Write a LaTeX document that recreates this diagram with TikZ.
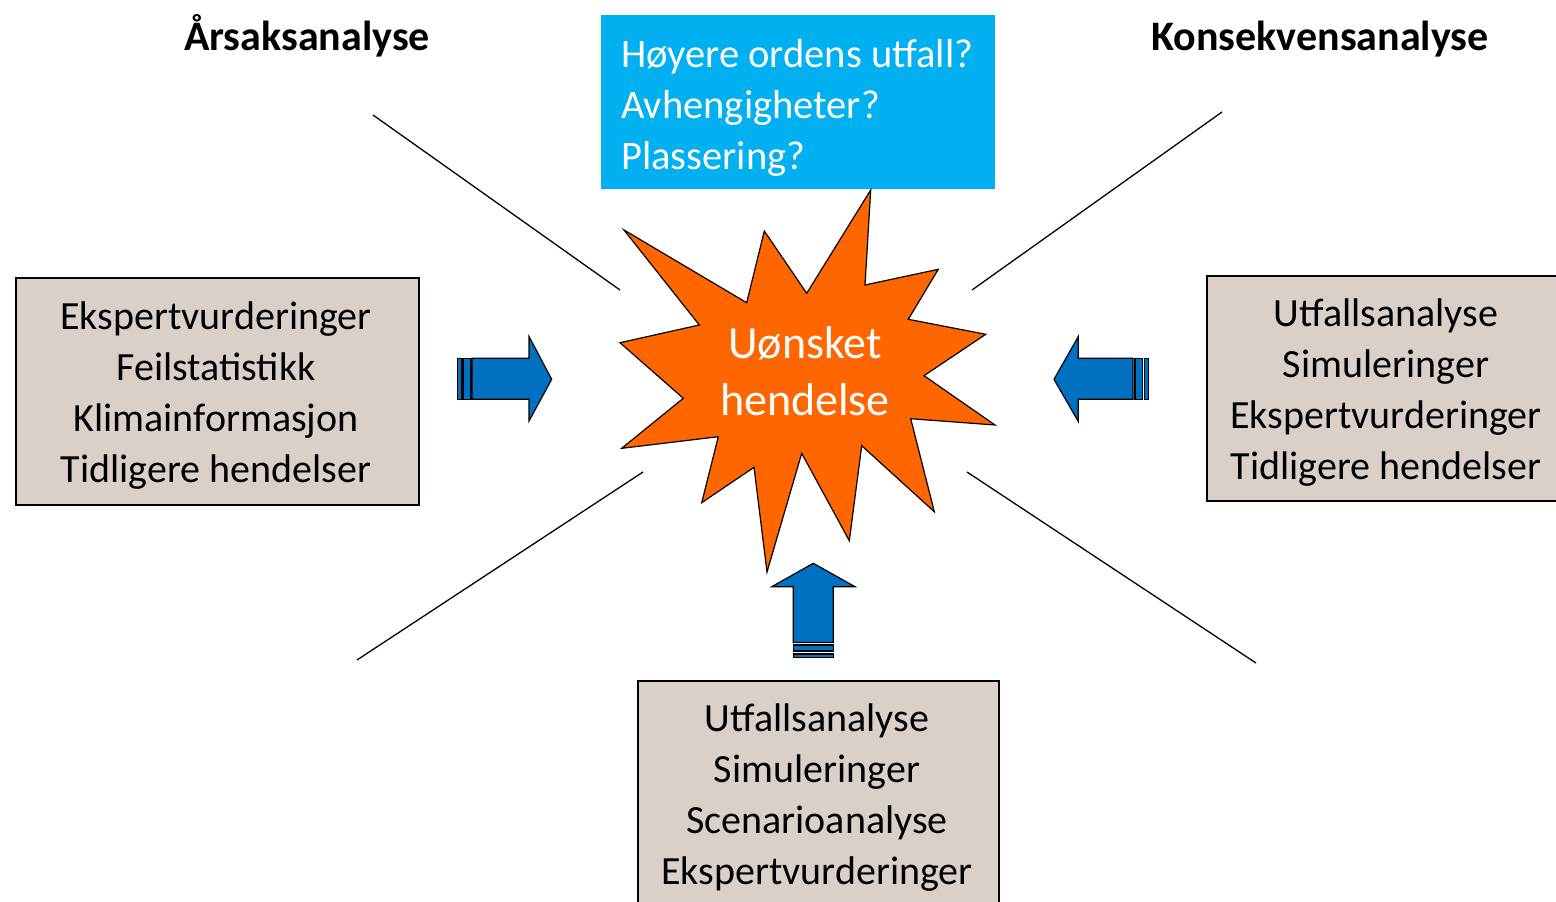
\documentclass[tikz,border=0pt]{standalone}
\usepackage{fontspec}
\setmainfont{Carlito}
\definecolor{boxbg}{HTML}{D9D1C7}
\definecolor{cyanbox}{HTML}{00B0F0}
\definecolor{starorange}{HTML}{FF6600}
\definecolor{arrowblue}{HTML}{0070C0}
\begin{document}
\begin{tikzpicture}[x=1pt,y=-1pt,
  box/.style={draw=black, line width=1.5pt, fill=boxbg, inner sep=0pt},
  txt/.style={font=\fontsize{40}{51}\selectfont, align=center, inner sep=0pt, anchor=base},
  head/.style={font=\bfseries\fontsize{42}{48}\selectfont, inner sep=0pt, anchor=base},
  ray/.style={draw=black, line width=1.3pt},
  barrow/.style={draw=black, line width=1.2pt, fill=arrowblue, line join=miter}]
\useasboundingbox (0,0) rectangle (1556,902);
\clip (0,0) rectangle (1556,902);

% headings
\node[head] (cause) at (307,50) {Årsaksanalyse};
\node[head] (conseq) at (1320,50) {Konsekvensanalyse};

% question box
\node[fill=cyanbox, minimum width=394pt, minimum height=174pt, anchor=north west, inner sep=0pt] (qbox) at (601,15) {};
\node[txt, align=left, anchor=base west, text=white, font=\fontsize{40.5}{51}\selectfont] (qtext) at (621,169) {Høyere ordens utfall?\\Avhengigheter?\\Plassering?};

% rays
\coordinate (r1a) at (373,115); \coordinate (r1b) at (620,290);
\coordinate (r2a) at (1222,112); \coordinate (r2b) at (972,290);
\coordinate (r3a) at (643,472); \coordinate (r3b) at (357,660);
\coordinate (r4a) at (967,472); \coordinate (r4b) at (1256,663);
\draw[ray] (r1a) -- (r1b);
\draw[ray] (r2a) -- (r2b);
\draw[ray] (r3a) -- (r3b);
\draw[ray] (r4a) -- (r4b);

% star
\draw[fill=starorange, line width=1.2pt, line join=miter]
 (870.7,190) -- (865,285) -- (938.3,269.3) -- (908.3,319.3) -- (985.7,334.3)
 -- (924,375.7) -- (995,425) -- (910.7,418.7) -- (934.3,511.7) -- (861.7,445.7)
 -- (849.3,540.7) -- (801.7,453.3) -- (767,572) -- (754,467.3) -- (701.7,502.7)
 -- (718.3,436.7) -- (621.7,448.3) -- (683.3,398.3) -- (620,342.7) -- (699.3,325)
 -- (624,230) -- (746.7,302.7) -- (764.3,231) -- (806.7,293.3) -- cycle;
\node[txt, text=white, font=\fontsize{46}{57}\selectfont] (event) at (805,415) {Uønsket\\hendelse};

% left box
\node[box, minimum width=403pt, minimum height=227pt, anchor=north west] (lbox) at (15,277) {};
\node[txt] (ltext) at (216,482) {Ekspertvurderinger\\Feilstatistikk\\Klimainformasjon\\Tidligere hendelser};

% right box
\node[box, minimum width=370pt, minimum height=225pt, anchor=north west] (rbox) at (1206,275) {};
\node[txt] (rtext) at (1386,479) {Utfallsanalyse\\Simuleringer\\Ekspertvurderinger\\Tidligere hendelser};

% bottom box
\node[box, minimum width=361pt, minimum height=250pt, anchor=north west] (bbox) at (637,680) {};
\node[txt] (btext) at (817,884) {Utfallsanalyse\\Simuleringer\\Scenarioanalyse\\Ekspertvurderinger};

% right-pointing striped arrow
\draw[barrow] (457.3,358.3) rectangle (462,399.3);
\draw[barrow] (463,358.3) rectangle (471,399.3);
\draw[barrow] (472,358.3) -- (529,358.3) -- (529,336.5) -- (551.7,379.3) -- (529,421) -- (529,399.3) -- (472,399.3) -- cycle;

% left-pointing striped arrow
\draw[barrow] (1144.3,358.3) rectangle (1148.5,399.3);
\draw[barrow] (1135,358.3) rectangle (1142.5,399.3);
\draw[barrow] (1133,358.3) -- (1078.3,358.3) -- (1078.3,336.5) -- (1054,379.3) -- (1078.3,421.5) -- (1078.3,399.3) -- (1133,399.3) -- cycle;

% up-pointing striped arrow
\draw[barrow] (793.3,654) rectangle (833.3,657.7);
\draw[barrow] (793.3,645) rectangle (833.3,651);
\draw[barrow] (793.3,642.5) -- (793.3,586.7) -- (771.7,586.7) -- (813.3,563.3) -- (855,586.7) -- (833.3,586.7) -- (833.3,642.5) -- cycle;
\end{tikzpicture}
\end{document}
